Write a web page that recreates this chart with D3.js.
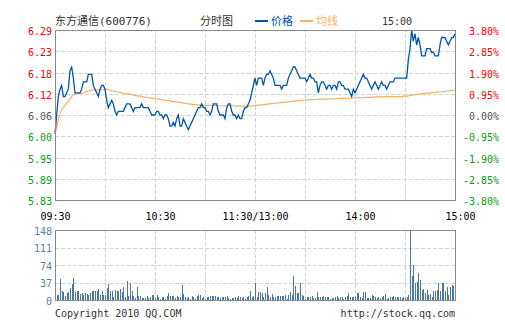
<!DOCTYPE html>
<html>
<head>
<meta charset="utf-8">
<script src="https://cdn.jsdelivr.net/npm/d3@7"></script>
<style>
  body { margin: 0; background: #fff; }
  svg text { font-family: "DejaVu Sans Mono", "Noto Sans CJK SC", monospace; }
</style>
</head>
<body>
<div id="chart"></div>
<script>
// 东方通信 600776 intraday
const prevClose = 6.06;
const pctTicks = [3.80, 2.85, 1.90, 0.95, 0.00, -0.95, -1.90, -2.85, -3.80];
const priceLabels = ['6.29', '6.23', '6.18', '6.12', '6.06', '6.00', '5.95', '5.89', '5.83'];
const pctLabels = ['3.80%', '2.85%', '1.90%', '0.95%', '0.00%', '-0.95%', '-1.90%', '-2.85%', '-3.80%'];
const timeTicks = [0, 60, 120, 180, 240];
const timeLabels = ['09:30', '10:30', '11:30/13:00', '14:00', '15:00'];
const volTicks = [0, 37, 74, 111, 148];

// one value per minute, 241 minutes
const prices = [
  6.01, 6.06, 6.11, 6.13, 6.14, 6.11, 6.11, 6.12, 6.13, 6.18,
  6.19, 6.16, 6.12, 6.12, 6.12, 6.12, 6.13, 6.15, 6.15, 6.15,
  6.17, 6.17, 6.17, 6.14, 6.13, 6.12, 6.11, 6.13, 6.14, 6.14,
  6.13, 6.10, 6.08, 6.09, 6.10, 6.09, 6.07, 6.06, 6.07, 6.07,
  6.07, 6.07, 6.08, 6.09, 6.09, 6.09, 6.08, 6.07, 6.08, 6.08,
  6.08, 6.08, 6.09, 6.08, 6.08, 6.08, 6.08, 6.07, 6.06, 6.06,
  6.06, 6.07, 6.07, 6.06, 6.06, 6.05, 6.06, 6.06, 6.05, 6.03,
  6.03, 6.04, 6.03, 6.05, 6.06, 6.03, 6.03, 6.05, 6.04, 6.03,
  6.02, 6.03, 6.04, 6.05, 6.06, 6.07, 6.08, 6.08, 6.09, 6.08,
  6.08, 6.07, 6.07, 6.06, 6.07, 6.09, 6.09, 6.09, 6.07, 6.06,
  6.06, 6.06, 6.05, 6.08, 6.09, 6.09, 6.07, 6.06, 6.06, 6.05,
  6.06, 6.05, 6.05, 6.07, 6.08, 6.08, 6.09, 6.10, 6.12, 6.14,
  6.16, 6.14, 6.16, 6.16, 6.16, 6.14, 6.16, 6.17, 6.17, 6.18,
  6.17, 6.16, 6.14, 6.14, 6.14, 6.14, 6.13, 6.14, 6.14, 6.14,
  6.16, 6.17, 6.18, 6.19, 6.19, 6.18, 6.17, 6.16, 6.16, 6.16,
  6.16, 6.15, 6.16, 6.17, 6.16, 6.16, 6.15, 6.15, 6.12, 6.14,
  6.15, 6.15, 6.14, 6.13, 6.14, 6.14, 6.13, 6.14, 6.14, 6.13,
  6.15, 6.15, 6.14, 6.14, 6.13, 6.13, 6.13, 6.12, 6.11, 6.13,
  6.12, 6.13, 6.14, 6.15, 6.16, 6.17, 6.16, 6.16, 6.15, 6.14,
  6.13, 6.14, 6.15, 6.14, 6.13, 6.14, 6.15, 6.14, 6.14, 6.13,
  6.14, 6.15, 6.15, 6.15, 6.16, 6.16, 6.16, 6.16, 6.16, 6.16,
  6.16, 6.16, 6.21, 6.24, 6.29, 6.26, 6.28, 6.25, 6.27, 6.25,
  6.22, 6.22, 6.22, 6.24, 6.24, 6.24, 6.23, 6.23, 6.22, 6.22,
  6.22, 6.25, 6.27, 6.27, 6.27, 6.26, 6.25, 6.26, 6.27, 6.27,
  6.28
];

const avgPrices = [
  6.010, 6.025, 6.047, 6.063, 6.074, 6.081, 6.086, 6.092, 6.097, 6.104,
  6.110, 6.115, 6.117, 6.117, 6.118, 6.118, 6.119, 6.120, 6.122, 6.124,
  6.125, 6.126, 6.127, 6.128, 6.128, 6.128, 6.128, 6.128, 6.129, 6.129,
  6.129, 6.129, 6.128, 6.127, 6.126, 6.125, 6.124, 6.123, 6.122, 6.121,
  6.120, 6.119, 6.118, 6.117, 6.117, 6.116, 6.115, 6.114, 6.113, 6.112,
  6.112, 6.111, 6.110, 6.109, 6.108, 6.108, 6.107, 6.106, 6.105, 6.105,
  6.104, 6.103, 6.103, 6.102, 6.101, 6.101, 6.100, 6.099, 6.099, 6.098,
  6.097, 6.096, 6.096, 6.095, 6.094, 6.094, 6.093, 6.092, 6.092, 6.091,
  6.090, 6.090, 6.089, 6.089, 6.088, 6.088, 6.087, 6.087, 6.086, 6.086,
  6.086, 6.086, 6.086, 6.086, 6.086, 6.086, 6.086, 6.086, 6.085, 6.085,
  6.085, 6.085, 6.085, 6.085, 6.085, 6.085, 6.085, 6.085, 6.084, 6.084,
  6.084, 6.084, 6.084, 6.084, 6.084, 6.084, 6.084, 6.084, 6.085, 6.085,
  6.086, 6.086, 6.087, 6.087, 6.088, 6.088, 6.089, 6.089, 6.090, 6.090,
  6.091, 6.091, 6.092, 6.092, 6.093, 6.093, 6.094, 6.094, 6.095, 6.095,
  6.096, 6.096, 6.097, 6.097, 6.098, 6.098, 6.099, 6.099, 6.100, 6.100,
  6.100, 6.101, 6.101, 6.101, 6.102, 6.102, 6.102, 6.102, 6.103, 6.103,
  6.103, 6.103, 6.103, 6.103, 6.104, 6.104, 6.104, 6.104, 6.104, 6.104,
  6.105, 6.105, 6.105, 6.105, 6.105, 6.105, 6.106, 6.106, 6.106, 6.106,
  6.106, 6.106, 6.107, 6.107, 6.107, 6.107, 6.107, 6.108, 6.108, 6.108,
  6.108, 6.108, 6.109, 6.109, 6.109, 6.109, 6.109, 6.110, 6.110, 6.110,
  6.110, 6.110, 6.110, 6.110, 6.110, 6.110, 6.110, 6.110, 6.110, 6.111,
  6.111, 6.111, 6.112, 6.113, 6.114, 6.115, 6.115, 6.116, 6.116, 6.117,
  6.117, 6.118, 6.118, 6.119, 6.119, 6.120, 6.120, 6.121, 6.121, 6.122,
  6.122, 6.123, 6.123, 6.124, 6.124, 6.125, 6.125, 6.126, 6.126, 6.127,
  6.128
];

const volumes = [
  8, 11, 11, 44, 18, 17, 8, 14, 17, 25,
  34, 47, 17, 18, 18, 13, 14, 11, 14, 13,
  11, 14, 18, 18, 18, 18, 23, 10, 18, 10,
  11, 25, 34, 18, 18, 7, 21, 20, 20, 23,
  17, 27, 7, 41, 8, 36, 18, 8, 4, 27,
  8, 8, 4, 4, 4, 8, 4, 7, 11, 11,
  4, 10, 7, 3, 6, 6, 3, 8, 14, 8,
  8, 8, 4, 8, 7, 7, 31, 13, 7, 4,
  7, 3, 8, 6, 3, 9, 11, 11, 4, 6,
  3, 6, 7, 9, 8, 9, 9, 7, 6, 4,
  7, 7, 6, 8, 4, 3, 4, 4, 7, 4,
  9, 6, 4, 7, 3, 7, 9, 19, 7, 9,
  37, 7, 16, 17, 14, 7, 14, 27, 10, 6,
  13, 6, 7, 8, 8, 8, 8, 8, 10, 3,
  10, 17, 10, 51, 29, 14, 14, 36, 11, 8,
  3, 6, 7, 6, 9, 4, 4, 17, 6, 7,
  7, 9, 7, 7, 6, 3, 4, 4, 7, 8,
  4, 6, 6, 3, 7, 9, 14, 6, 7, 6,
  6, 14, 14, 7, 4, 17, 17, 4, 4, 4,
  10, 8, 7, 4, 7, 4, 7, 8, 13, 3,
  4, 7, 6, 8, 7, 7, 6, 7, 4, 6,
  4, 7, 11, 148, 50, 73, 36, 39, 57, 42,
  21, 23, 14, 21, 10, 13, 7, 18, 20, 21,
  35, 20, 36, 35, 18, 28, 11, 28, 31, 30,
  32
];

const chartW = 505, chartH = 330;
const plotL = 55, plotR = 455, plotT = 30, plotB = 200;
const volT = 230, volB = 300;

const svg = d3.select('#chart').append('svg')
  .attr('width', chartW)
  .attr('height', chartH);

const x = d3.scaleLinear().domain([0, 240]).range([plotL, plotR]);
const y = d3.scaleLinear()
  .domain([prevClose * (1 - 0.038), prevClose * (1 + 0.038)])
  .range([plotB, plotT]);
const yv = d3.scaleLinear().domain([0, 148]).range([volB, volT]);
const tickPrices = pctTicks.map(p => prevClose * (1 + p / 100));

function styleGrid(g) {
  g.select('.domain').remove();
  g.selectAll('line')
    .attr('stroke', '#d2d2d2')
    .attr('stroke-dasharray', '4,2')
    .attr('shape-rendering', 'crispEdges');
}

// grids - price panel
svg.append('g')
  .attr('transform', `translate(0,${plotB})`)
  .call(d3.axisBottom(x).tickValues(d3.range(30, 240, 30)).tickSize(-(plotB - plotT)).tickFormat(''))
  .call(styleGrid);
svg.append('g')
  .attr('transform', `translate(${plotL},0)`)
  .call(d3.axisLeft(y).tickValues(tickPrices.slice(1, -1)).tickSize(-(plotR - plotL)).tickFormat(''))
  .call(styleGrid);

// grids - volume panel
svg.append('g')
  .attr('transform', `translate(0,${volB})`)
  .call(d3.axisBottom(x).tickValues(d3.range(30, 240, 30)).tickSize(-(volB - volT)).tickFormat(''))
  .call(styleGrid);
svg.append('g')
  .attr('transform', `translate(${plotL},0)`)
  .call(d3.axisLeft(yv).tickValues(volTicks.slice(1, -1)).tickSize(-(plotR - plotL)).tickFormat(''))
  .call(styleGrid);

// volume bars
svg.append('g').selectAll('rect')
  .data(volumes)
  .enter().append('rect')
  .attr('x', (d, i) => Math.round(x(i)))
  .attr('y', d => Math.round(yv(d)))
  .attr('width', 1)
  .attr('height', d => volB - Math.round(yv(d)))
  .attr('fill', '#4a78a0')
  .attr('shape-rendering', 'crispEdges');

// avg line then price line
svg.append('path')
  .datum(avgPrices)
  .attr('fill', 'none')
  .attr('stroke', '#f5b064')
  .attr('stroke-width', 1.2)
  .attr('d', d3.line().x((d, i) => x(i)).y(d => y(d)));

svg.append('path')
  .datum(prices)
  .attr('fill', 'none')
  .attr('stroke', '#0055aa')
  .attr('stroke-width', 1.3)
  .attr('d', d3.line().x((d, i) => x(i)).y(d => y(d)));

// borders
[[plotT, plotB], [volT, volB]].forEach(([t, b]) => {
  svg.append('rect')
    .attr('x', plotL + 0.5).attr('y', t + 0.5)
    .attr('width', plotR - plotL).attr('height', b - t)
    .attr('fill', 'none')
    .attr('stroke', '#888');
});

const labelColor = i => pctTicks[i] > 0 ? '#ff0000' : (pctTicks[i] < 0 ? '#109a10' : '#555');

// price labels (left)
svg.append('g')
  .attr('transform', `translate(${plotL},0)`)
  .call(d3.axisLeft(y).tickValues(tickPrices).tickSize(0).tickPadding(3).tickFormat((d, i) => priceLabels[i]))
  .call(g => g.select('.domain').remove())
  .selectAll('text')
  .attr('font-size', 10)
  .attr('dy', '0.45em')
  .attr('fill', (d, i) => labelColor(i));

// percent labels (right)
svg.append('g')
  .attr('transform', `translate(${plotR},0)`)
  .call(d3.axisRight(y).tickValues(tickPrices).tickSize(0).tickFormat((d, i) => pctLabels[i]))
  .call(g => g.select('.domain').remove())
  .selectAll('text')
  .attr('font-size', 10)
  .attr('text-anchor', 'end')
  .attr('x', 44)
  .attr('dy', '0.45em')
  .attr('fill', (d, i) => labelColor(i));

// time labels
const timeShift = [0, 5, 0, 5, 5];
svg.append('g')
  .attr('transform', `translate(0,${plotB})`)
  .call(d3.axisBottom(x).tickValues(timeTicks).tickSize(0).tickPadding(13).tickFormat((d, i) => timeLabels[i]))
  .call(g => g.select('.domain').remove())
  .selectAll('text')
  .attr('font-size', 10)
  .attr('fill', '#000')
  .attr('dx', (d, i) => timeShift[i]);

// volume labels
svg.append('g')
  .attr('transform', `translate(${plotL},0)`)
  .call(d3.axisLeft(yv).tickValues(volTicks).tickSize(0).tickPadding(3))
  .call(g => g.select('.domain').remove())
  .selectAll('text')
  .attr('font-size', 10)
  .attr('dy', '0.4em')
  .attr('fill', '#5b7fa6');

// header
const header = svg.append('g').attr('font-size', 11);
header.append('text').attr('x', 55).attr('y', 25).attr('fill', '#333').text('东方通信(600776)');
header.append('text').attr('x', 200).attr('y', 25).attr('fill', '#333').text('分时图');
header.append('line').attr('x1', 255).attr('x2', 268).attr('y1', 21).attr('y2', 21)
  .attr('stroke', '#0055aa').attr('stroke-width', 2);
header.append('text').attr('x', 271).attr('y', 25).attr('fill', '#0055aa').text('价格');
header.append('line').attr('x1', 300).attr('x2', 313).attr('y1', 21).attr('y2', 21)
  .attr('stroke', '#f5b064').attr('stroke-width', 2);
header.append('text').attr('x', 316).attr('y', 25).attr('fill', '#f5b064').text('均线');
header.append('text').attr('x', 382).attr('y', 25).attr('font-size', 10).attr('fill', '#333').text('15:00');

// footer
svg.append('text').attr('x', 55).attr('y', 317).attr('font-size', 10).attr('fill', '#333')
  .text('Copyright 2010 QQ.COM');
svg.append('text').attr('x', 455).attr('y', 317).attr('font-size', 10).attr('fill', '#333')
  .attr('text-anchor', 'end').text('http://stock.qq.com');
</script>
</body>
</html>
